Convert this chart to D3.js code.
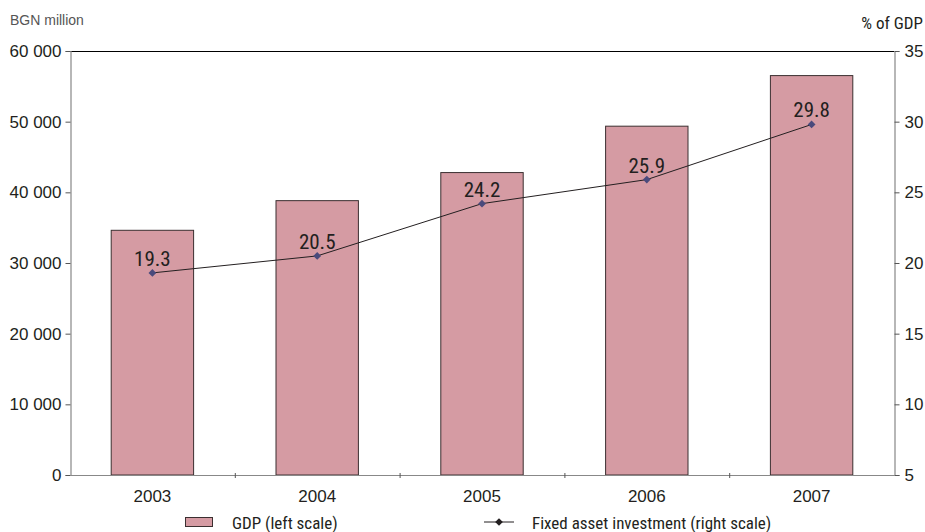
<!DOCTYPE html>
<html>
<head>
<meta charset="utf-8">
<script src="https://cdn.jsdelivr.net/npm/d3@7"></script>
<style>
  html, body { margin: 0; padding: 0; background: #fff; }
  svg text { font-family: "Liberation Sans Narrow", "Roboto Condensed", "Liberation Sans", sans-serif; fill: #231f20; }
</style>
</head>
<body>
<svg id="chart" width="925" height="532"></svg>
<script>
const years = ["2003", "2004", "2005", "2006", "2007"];
const gdp = [34628, 38823, 42797, 49361, 56520];          // BGN million
const investment = [19.3, 20.5, 24.2, 25.9, 29.8];        // % of GDP
const leftTicks = [0, 10000, 20000, 30000, 40000, 50000, 60000];
const rightTicks = [5, 10, 15, 20, 25, 30, 35];

const svg = d3.select("#chart");
const m = { left: 70, right: 894, top: 51, bottom: 475 };

const x = d3.scaleBand().domain(years).range([m.left, m.right]).paddingInner(0.5).paddingOuter(0.25);
const band = d3.scaleBand().domain(years).range([m.left, m.right]);
const yL = d3.scaleLinear().domain([0, 60000]).range([m.bottom, m.top]);
const yR = d3.scaleLinear().domain([5, 35]).range([m.bottom, m.top]);

const fmt = d => d3.format(",")(d).replace(/,/g, " ");

// Bars
svg.append("g").selectAll("rect").data(years).join("rect")
  .attr("x", d => x(d))
  .attr("y", (d, i) => yL(gdp[i]))
  .attr("width", x.bandwidth())
  .attr("height", (d, i) => m.bottom - yL(gdp[i]))
  .attr("fill", "#d59ba3")
  .attr("stroke", "#3b2f30")
  .attr("stroke-width", 1);

// Frame: top border and axes
svg.append("line").attr("x1", m.left).attr("x2", m.right).attr("y1", m.top + 0.5).attr("y2", m.top + 0.5)
  .attr("stroke", "#000").attr("stroke-width", 1);

const leftAxis = svg.append("g").attr("transform", `translate(${m.left + 0.5},0)`)
  .call(d3.axisLeft(yL).tickValues(leftTicks).tickFormat(fmt).tickSize(5).tickPadding(4));
const rightAxis = svg.append("g").attr("transform", `translate(${m.right + 0.5},0)`)
  .call(d3.axisRight(yR).tickValues(rightTicks).tickSize(5).tickPadding(5));
const bottomAxis = svg.append("g").attr("transform", `translate(0,${m.bottom + 0.5})`)
  .call(d3.axisBottom(band).tickSize(0).tickPadding(14));

[leftAxis, rightAxis, bottomAxis].forEach(g => {
  g.select(".domain").attr("stroke", "#888").attr("stroke-width", 1.2);
  g.selectAll(".tick line").attr("stroke", "#555");
  g.selectAll("text").attr("font-size", 17).attr("fill", "#231f20")
    .style("font-family", '"Liberation Sans Narrow", "Liberation Sans", sans-serif');
});
bottomAxis.select(".domain").attr("d", `M${m.left},0H${m.right}`);

// Category separators on the x axis
svg.append("g").selectAll("line").data(years.slice(1)).join("line")
  .attr("x1", d => band(d) + 0.5).attr("x2", d => band(d) + 0.5)
  .attr("y1", m.bottom - 2).attr("y2", m.bottom + 3)
  .attr("stroke", "#555");

// Investment line
const cx = (d, i) => band(years[i]) + band.bandwidth() / 2;
svg.append("path")
  .datum(investment)
  .attr("d", d3.line().x((d, i) => cx(d, i)).y(d => yR(d)))
  .attr("fill", "none").attr("stroke", "#231f20").attr("stroke-width", 1);

// Square markers turned 45° so they read as diamonds
const diamond = d3.symbol().type(d3.symbolSquare).size(30);
svg.append("g").selectAll("path").data(investment).join("path")
  .attr("d", diamond)
  .attr("transform", (d, i) => `translate(${cx(d, i)},${yR(d)}) rotate(45)`)
  .attr("fill", "#4a4a7c");

svg.append("g").selectAll("text").data(investment).join("text")
  .attr("x", (d, i) => cx(d, i))
  .attr("y", d => yR(d) - 7)
  .attr("text-anchor", "middle")
  .attr("font-size", 21)
  .text(d => d.toFixed(1));

// Axis titles
svg.append("text").attr("x", 10).attr("y", 25)
  .style("font-family", '"Liberation Sans", Arial, sans-serif').style("font-size", "14px")
  .style("fill", "#555").text("BGN million");
svg.append("text").attr("x", 923).attr("y", 29).attr("text-anchor", "end").attr("font-size", 17).text("% of GDP");

// Legend
const lg = svg.append("g");
lg.append("rect").attr("x", 185.5).attr("y", 517.5).attr("width", 27).attr("height", 9)
  .attr("fill", "#d59ba3").attr("stroke", "#3b2f30");
lg.append("text").attr("x", 232).attr("y", 529).attr("font-size", 17).text("GDP (left scale)");
lg.append("line").attr("x1", 484).attr("x2", 514).attr("y1", 522).attr("y2", 522).attr("stroke", "#231f20");
lg.append("path").attr("d", diamond).attr("transform", "translate(499,522) rotate(45)").attr("fill", "#231f20");
lg.append("text").attr("x", 532).attr("y", 529).attr("font-size", 17).text("Fixed asset investment (right scale)");
</script>
</body>
</html>
